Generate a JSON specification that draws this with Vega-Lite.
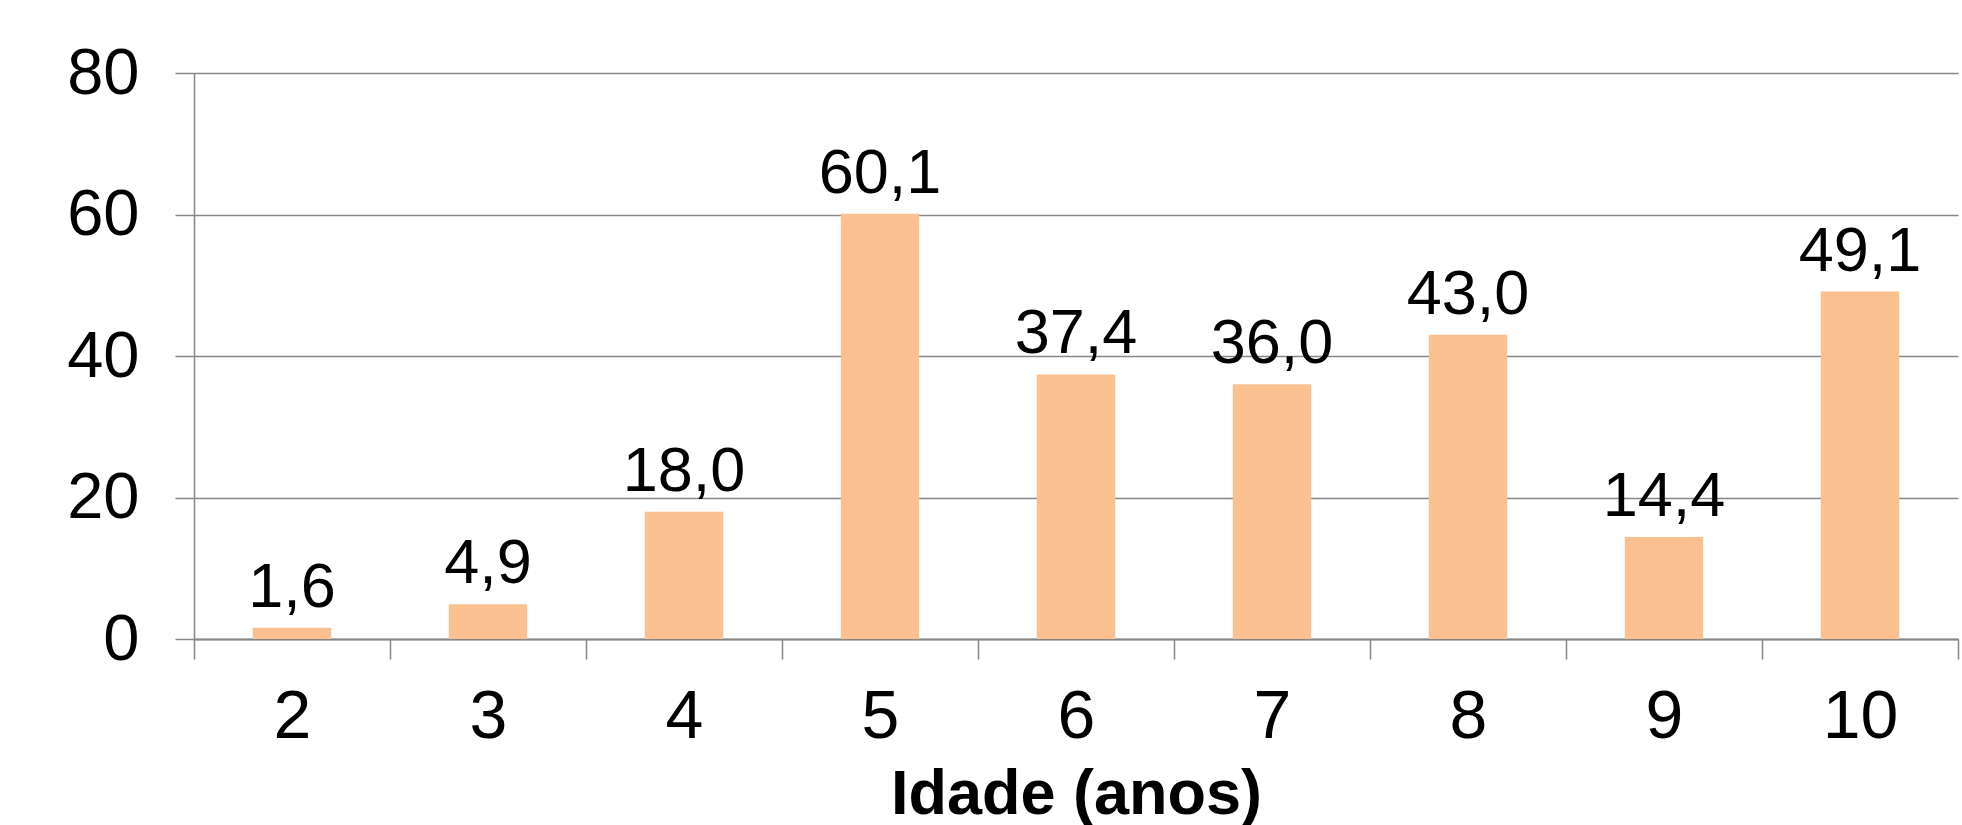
{
  "$schema": "https://vega.github.io/schema/vega-lite/v6.json",
  "autosize": {"type": "none"},
  "width": 1764,
  "height": 566,
  "padding": {"left": 194, "top": 73, "right": 4, "bottom": 186},
  "background": "white",
  "config": {
    "view": {"stroke": null},
    "font": "Liberation Sans",
    "locale": {"number": {"decimal": ",", "thousands": ".", "grouping": [3], "currency": ["", ""]}}
  },
  "title": {
    "text": "Acess Das Lafees",
    "font": "Liberation Sans",
    "fontSize": 62,
    "fontWeight": "bold",
    "color": "black",
    "anchor": "middle",
    "frame": "group",
    "baseline": "alphabetic",
    "offset": 28,
    "dy": 24,
    "dx": -59
  },
  "data": {
    "values": [
      {"idade": "2", "valor": 1.6},
      {"idade": "3", "valor": 4.9},
      {"idade": "4", "valor": 18.0},
      {"idade": "5", "valor": 60.1},
      {"idade": "6", "valor": 37.4},
      {"idade": "7", "valor": 36.0},
      {"idade": "8", "valor": 43.0},
      {"idade": "9", "valor": 14.4},
      {"idade": "10", "valor": 49.1}
    ]
  },
  "encoding": {
    "x": {
      "field": "idade",
      "type": "ordinal",
      "sort": null,
      "scale": {"paddingInner": 0, "paddingOuter": 0},
      "axis": {
        "title": "Idade (anos)",
        "titleFont": "Liberation Sans",
        "titleFontSize": 63,
        "titleFontWeight": "bold",
        "titleColor": "black",
        "titlePadding": 12,
        "labelAngle": 0,
        "labelFont": "Liberation Sans",
        "labelFontSize": 68,
        "labelColor": "black",
        "labelPadding": 24,
        "tickBand": "extent",
        "tickSize": 20,
        "tickColor": "#878787",
        "tickWidth": 1.5,
        "domainColor": "#878787",
        "domainWidth": 2,
        "grid": false
      }
    },
    "y": {
      "field": "valor",
      "type": "quantitative",
      "scale": {"domain": [0, 80], "nice": false},
      "axis": {
        "title": null,
        "values": [0, 20, 40, 60, 80],
        "labelFont": "Liberation Sans",
        "labelFontSize": 65,
        "labelColor": "black",
        "labelPadding": 36,
        "tickSize": 19,
        "tickColor": "#878787",
        "tickWidth": 1.5,
        "domainColor": "#878787",
        "domainWidth": 1.5,
        "grid": true,
        "gridColor": "#878787",
        "gridWidth": 1.5
      }
    }
  },
  "layer": [
    {"mark": {"type": "bar", "color": "#FAC090", "width": {"band": 0.4}}},
    {
      "mark": {"type": "text", "baseline": "alphabetic", "dy": -21, "fontSize": 63, "font": "Liberation Sans", "color": "black"},
      "encoding": {"text": {"field": "valor", "type": "quantitative", "format": ".1f"}}
    }
  ]
}
